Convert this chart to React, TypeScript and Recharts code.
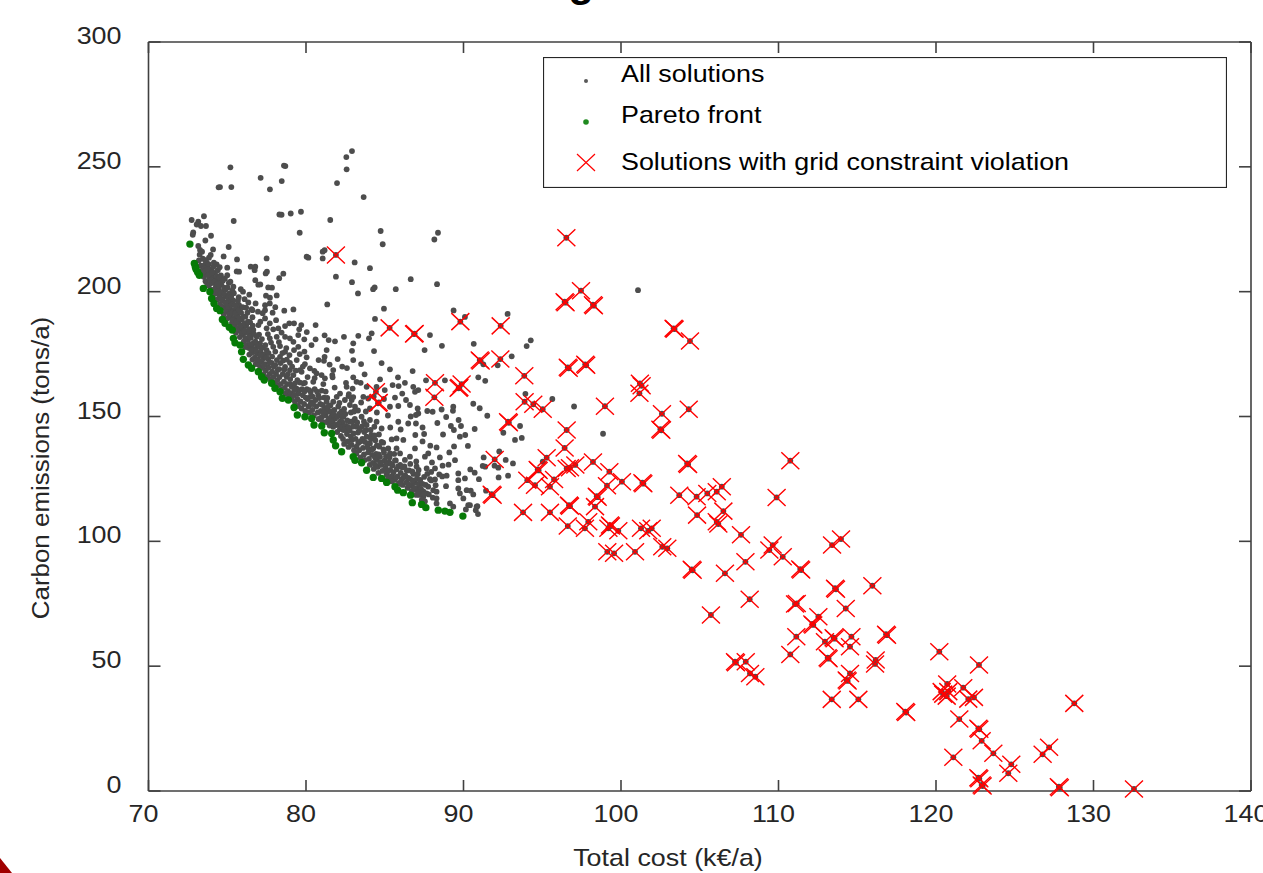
import { ScatterChart, Scatter, XAxis, YAxis, Legend } from 'recharts'

type Pt = [number, number]

const costTicks = [70, 80, 90, 100, 110, 120, 130, 140]
const carbonTicks = [0, 50, 100, 150, 200, 250, 300]
const legendLabels = ['All solutions', 'Pareto front', 'Solutions with grid constraint violation']

// sparse solutions above the front, read one by one
const upperSolutions: Pt[] = [
  [82.92, 256.3], [82.56, 253.9], [82.58, 249], [81.97, 243.5], [83.66, 237.9], [78.69, 250.3], [78.6, 250.5], [78.46, 244.3],
  [77.12, 245.6], [77.71, 241], [75.2, 249.8], [74.54, 241.9], [74.45, 241.8], [75.26, 241.9], [73.52, 230.2], [72.74, 228.7], [73.16, 228],
  [73.06, 226.9], [73.33, 226.3], [73.65, 226.3], [75.41, 228.3], [78.31, 230.9], [78.45, 230.8], [79.03, 231.3], [79.68, 232], [81.54, 228.7],
  [79.6, 223.6], [72.84, 223.7], [72.81, 222.8], [73.97, 222.4], [73.61, 220.5], [84.74, 224.3], [84.87, 219], [88.15, 220.9], [88.38, 223.6],
  [73.16, 218.3], [73.27, 216.7], [74.1, 216.9], [75.09, 217.9], [73.95, 214.7], [73.84, 213.6], [74.77, 214.1], [75.62, 212.9], [77.5, 213.3],
  [80.04, 214], [80.15, 213.6], [81.06, 216], [81.18, 216.6], [81.06, 213.3], [83.09, 211.7], [84.06, 209.4], [81.9, 206], [82.92, 203.8], [83.3, 199.3],
  [84.36, 201.7], [84.26, 201], [85.7, 201], [86.65, 205], [88.32, 203], [74.33, 210.9], [75, 209.6], [75.6, 208.1], [75.75, 208], [76.49, 210], [76.78, 210],
  [76.74, 208.6], [77.44, 207.3], [77.52, 208], [78.56, 207.2], [78.3, 205.4], [76.78, 204.6], [76.97, 202.8], [77.1, 202.9], [77.6, 201.7], [77.84, 201.6],
  [75.86, 201], [76.4, 198.8], [75.73, 197.8], [77.46, 198.4], [77.71, 197.6], [78.14, 198.5], [75.39, 202],
  [101.08, 200.6], [92.8, 191.1], [94.27, 180.5], [94.01, 178.2], [90.65, 179.1], [93.06, 174.1], [91.26, 170.9], [92.17, 170.5], [90.94, 165.7], [91.38, 164.3],
  [93.93, 159.1], [95.64, 157], [97.02, 154], [90.62, 155.1], [91.03, 153.3], [91.51, 150.3], [90.71, 145], [92.53, 143.5], [93.59, 146.2], [93.27, 140.6],
  [93.7, 141.4], [98.86, 143.1], [92.27, 136], [91.28, 133.6], [92.68, 132.6], [93.14, 131.2], [91.22, 130.2], [91.38, 129.9], [91.97, 130.3], [92.21, 129.5],
  [90.43, 128.8], [90.71, 127.5], [90.98, 124.9], [92.23, 125.6], [92.83, 126.3], [95.03, 131.9], [91.43, 120.3], [90.62, 118.8], [90.41, 114.5], [90.88, 114.1],
  [90.78, 112.5], [90.92, 110.9], [90.46, 120.3],
]

const middleSolutions: Pt[] = [
  [76.34, 195.7], [76.8, 195.3], [77.4, 194.6], [77.7, 195.3], [75.75, 194.6], [78.62, 192.4], [79.2, 192.9], [77.4, 192.6], [77.88, 191.6], [81.35, 194.9],
  [84.95, 193.2], [84.38, 189.1], [89.37, 192.5], [90.09, 189.9], [87.87, 182.6], [88.63, 178.3], [87.53, 176.6], [80.61, 186.6], [79.89, 180.9], [80.61, 180.9],
  [81.18, 182.5], [81.44, 180.6], [81.84, 180.1], [82.41, 181.9], [83.32, 182.3], [83, 179.3], [82.92, 176.3], [84, 181.3], [84.17, 183.3], [84.32, 176.2],
  [81.31, 176.6], [81.18, 173.9], [81.14, 172.3], [82.01, 173], [85.33, 168.9], [86.77, 168.2], [83.72, 166.9], [85.84, 165.7], [86.28, 163.5], [84.7, 164.9],
  [87.62, 164.5], [88.82, 164.5], [86.81, 161.9], [86.92, 159.9], [87.13, 160.6], [85.88, 162.2], [86.11, 159.2], [85.65, 157.6], [86.35, 156.6], [85.86, 154.2],
  [85.33, 153.9], [87.09, 153.2], [87.7, 152.2], [88.04, 151.9], [89.35, 153.9], [89.33, 152.3], [88.61, 152.8], [87.13, 151.2], [86.98, 150.6], [88.34, 147.4],
  [86.98, 147.2], [86.49, 147.2], [85.86, 147.9], [86.01, 144.8], [86.94, 142.6], [84.48, 147.9], [84.34, 145.9], [84.63, 142.8], [89.69, 148.6], [89.2, 146.2],
  [89.39, 144.6], [89.84, 146.2], [89.77, 141.9], [90.11, 142.6], [90.28, 138.2], [87.89, 138.3], [88.29, 137.6], [84.65, 137.9], [85.75, 141.2], [86.18, 140.6],
  [85.44, 140.8], [86.92, 137.2], [87.55, 133.9], [87.76, 135.2], [85.22, 137.2], [85.33, 135.2], [85.75, 137.2], [85.97, 135.2], [86.6, 133.9], [89.46, 132.5],
  [89.05, 130.7], [88.67, 130.3], [88.19, 129.2], [87.66, 129.2], [89.67, 127.2], [90.09, 125.2], [88.46, 126.8], [88.93, 126.3], [87.87, 124.9], [88.19, 124.8],
  [87.76, 121.9], [88.23, 122.5], [88.89, 122.1], [88.08, 120.5], [88.29, 119.9], [89.67, 124.5], [89.67, 121.2], [89.77, 119.2], [89.99, 117.2], [90.2, 120.5],
  [88.29, 117.2], [88.29, 115.2], [89.14, 115.2], [89.35, 113.9], [90.3, 114.5], [90.15, 112.8], [90.83, 113.9], [87.2, 120.5], [87.45, 117.9], [87.13, 121.2],
  [77.4, 189.3], [77.7, 187.3], [76.66, 184.6], [77.5, 185.3], [77.92, 184.9], [78.24, 185.3], [78.67, 186.2], [78.94, 187.3], [79.24, 187.3], [79.57, 184.9],
  [77.7, 181.3], [78.14, 181.9], [78.67, 181.9], [78.98, 181.3], [79.2, 179.9], [79.51, 182.6], [79.51, 177.9], [79.24, 176.6], [78.67, 175.9], [78.35, 173.9],
  [77.92, 177.9], [78.35, 178.2], [77.5, 176.6], [77.08, 179.3], [76.87, 181.9], [76.44, 183.3], [76.55, 177.9], [76.87, 175.3], [77.29, 173.3], [79.41, 172.6],
  [78.98, 171.5], [80.04, 173.7], [79.93, 171], [80.25, 169.3], [80.53, 168.3], [78.98, 168.6], [79.72, 167.9], [79.93, 163.5], [80.46, 163.9], [80.67, 167.3],
  [80.99, 166.6], [81.2, 165.3], [81.1, 163], [81.73, 168.6], [81.67, 166.6], [81.69, 165.7], [82.54, 163.5], [83, 165.7], [83.21, 163.9], [83.47, 163.5],
  [82.58, 161.9], [82.96, 161.2], [83.85, 161.9], [84.48, 161.9], [83.64, 157.9], [83.95, 157.2], [84.06, 153.2], [82.47, 156.6], [82.9, 156.6], [82.79, 154.6],
  [83.11, 153.9], [83.53, 149.9], [84.06, 148.6], [82.16, 159.2], [81.95, 157.9], [81.73, 155.9], [81.31, 155.9], [80.78, 158.6], [80.25, 157.9], [79.83, 163.3],
  [79.3, 163.3], [78.77, 165.9], [79.09, 161.9], [79.51, 159.2], [78.67, 169.9], [82.37, 149.9], [82.16, 147.9], [82.79, 147.9], [83.21, 145.9], [83.85, 141.9],
  [84.06, 139.2], [84.27, 137.2], [82.9, 140.6], [83.21, 137.9], [82.37, 144.6], [81.73, 145.9],
  [76, 200], [76.1, 197], [76.55, 193], [76.2, 193.6], [76.95, 192], [77.1, 188], [77.25, 191.4], [76.6, 192.6], [78.1, 188.6], [78.45, 183.6], [78.05, 193.8], [79.7, 186.6],
  [79.9, 176], [80.35, 178.6], [80.05, 183.8], [80.8, 172.6], [81.5, 170.8], [82.3, 170], [82.6, 169.4], [83, 172.6], [83.5, 171], [84.8, 171.4], [85, 160.6], [84.95, 157],
  [85.5, 162.6], [85.2, 150.4], [85.35, 145.6], [84.9, 139.5], [86.6, 154.6], [86.65, 150], [87.4, 145.6], [87.5, 143], [87.4, 140], [87, 132], [87.15, 128.6], [88, 131.6],
  [88.5, 133.6], [88.65, 126], [89.1, 135.6], [89.4, 138], [88.7, 142.8], [88.9, 149.8], [83.5, 155.6], [83.8, 152], [84.5, 151.6], [84.8, 145.2], [83, 157.8], [82.7, 158.2], [84.3, 158],
]

// the packed band just above the Pareto front
const denseSolutions: Pt[] = [
  [73.2, 212.5], [73.25, 214.8], [73.3, 210.4], [73.4, 216], [73.42, 208.5], [73.45, 213.2], [73.5, 206], [73.55, 210.6], [73.6, 209.4], [73.62, 204.2],
  [73.68, 211.8], [73.7, 207], [73.72, 202.5], [73.82, 211], [73.85, 205.5], [73.88, 203], [73.9, 208.2], [73.93, 200.8], [74, 209], [74.02, 206.4],
  [74.05, 203.5], [74.08, 200.6], [74.1, 198.6], [74.15, 211.6], [74.22, 207.5], [74.25, 205], [74.28, 202], [74.3, 199.4], [74.33, 196.8], [74.4, 208.6],
  [74.42, 204], [74.46, 201], [74.5, 198], [74.55, 195], [74.6, 206.5], [74.62, 202.8], [74.66, 199.8], [74.7, 196.6], [74.75, 193.8], [74.78, 191], [74.85, 205.2],
  [74.88, 200.8], [74.9, 198], [74.95, 194.8], [75, 192], [75.02, 189.4], [75.1, 203.5], [75.12, 199.2], [75.15, 196], [75.2, 193], [75.22, 190.2], [75.3, 187.5],
  [75.32, 200.5], [75.38, 196.5], [75.4, 192.4], [75.45, 189.5], [75.5, 186], [75.55, 183.5], [75.6, 194], [75.65, 190.5], [75.7, 187.5], [75.75, 184.5],
  [75.8, 181.8], [75.88, 191.6], [75.9, 188.8], [75.95, 185.6], [76, 182.8], [76.05, 180], [76.12, 177.8], [76.15, 190], [76.2, 186.5], [76.25, 183.6],
  [76.3, 180.6], [76.35, 177.5], [76.4, 174.8], [76.45, 187.8], [76.5, 181.5], [76.55, 175.5], [76.6, 172.8], [76.68, 179.5], [76.72, 177], [76.75, 173.6],
  [76.8, 171], [76.9, 178.5], [76.95, 173], [77, 170.8], [77.05, 168.8], [77.12, 176], [77.18, 172], [77.22, 169.5], [77.3, 167], [77.35, 174.8],
  [77.4, 171], [77.45, 168.4], [77.52, 165.8], [77.6, 173], [77.62, 169.6], [77.7, 167], [77.75, 164.8], [77.82, 171.5], [77.85, 168], [77.92, 165.8],
  [78, 163.6], [78.05, 170.6], [78.1, 167], [78.18, 164.6], [78.22, 162.5], [78.3, 169], [78.32, 165.8], [78.4, 163], [78.45, 160.8], [78.52, 167],
  [78.6, 164], [78.65, 161.5], [78.7, 159.2], [78.8, 163], [78.85, 160.2], [78.92, 158], [79, 165], [79.05, 159.4], [79.1, 157], [79.18, 162.4],
  [79.25, 158.6], [79.3, 155.8], [79.4, 161.2], [79.45, 157], [79.5, 154.2], [79.6, 160.6], [79.65, 156], [79.72, 153.2], [79.8, 158.5], [79.88, 155],
  [79.95, 152.2], [80.05, 161], [80.1, 157], [80.15, 154], [80.2, 151.6], [80.3, 159.8], [80.35, 155.6], [80.4, 152.6], [80.5, 150.4], [80.55, 161],
  [80.6, 156.6], [80.65, 154], [80.75, 151.6], [80.8, 149], [80.9, 155], [80.95, 152.2], [81, 149.8], [81.05, 147.8], [81.15, 157.6], [81.2, 153.2],
  [81.25, 150.4], [81.3, 147.8], [81.4, 152], [81.45, 149], [81.5, 146.4], [81.55, 154.4], [81.62, 150], [81.7, 147.6], [81.8, 152.6], [81.85, 149.2],
  [81.92, 146.6], [81.98, 143.8], [82.05, 154], [82.1, 151], [82.15, 145], [82.22, 142.2], [82.25, 152], [82.32, 147.5], [82.35, 141], [82.42, 139],
  [82.5, 151], [82.55, 146.2], [82.6, 143], [82.65, 140], [82.7, 137.8], [82.78, 144.5], [82.85, 142], [82.9, 138.6], [83, 146], [83.02, 143.2],
  [83.05, 136.5], [83.15, 141], [83.2, 135.2], [83.3, 143.6], [83.32, 139.4], [83.38, 136.5], [83.45, 133.6], [83.55, 146], [83.58, 141], [83.62, 137.4],
  [83.68, 134.8], [83.72, 132.6], [83.8, 144.5], [83.9, 139], [83.95, 135.6], [84, 133], [84.05, 130.6], [84.15, 142.6], [84.2, 134.6], [84.25, 131.4],
  [84.3, 129], [84.4, 140.5], [84.45, 135], [84.5, 132.6], [84.55, 129.8], [84.6, 127.4], [84.7, 133.8], [84.78, 130.6], [84.85, 128.2], [84.95, 135.6],
  [85, 132.4], [85.05, 129.4], [85.12, 126.8], [85.2, 125], [85.28, 131.6], [85.35, 128.6], [85.42, 126], [85.5, 130.4], [85.55, 127.6], [85.62, 124.6],
  [85.7, 132.4], [85.75, 128.8], [85.82, 126], [85.9, 123.4], [85.98, 130.6], [86.02, 127.4], [86.08, 124.8], [86.15, 122.6], [86.25, 130], [86.3, 126.4],
  [86.38, 123.6], [86.45, 121.4], [86.55, 128.4], [86.6, 125], [86.68, 122.4], [86.72, 120.2], [86.82, 127], [86.9, 123.6], [86.95, 120.8], [87, 118.6],
  [87.05, 125.2], [87.15, 123], [87.2, 118.6], [87.3, 121], [87.35, 116.6], [87.45, 120], [87.55, 116], [87.65, 119.2],
  [73.5, 208], [73.6, 212.6], [73.75, 209], [73.8, 206.6], [73.95, 204.6], [74.05, 207.6], [74.12, 210], [74.18, 204], [74.2, 201], [74.35, 206.2], [74.38, 203], [74.4, 200.2],
  [74.5, 205.6], [74.52, 209.8], [74.58, 199.6], [74.62, 197], [74.72, 204.4], [74.8, 201.6], [74.82, 198.8], [74.9, 195.6], [74.92, 192.8], [75, 206.6], [75.02, 201.6], [75.05, 197.6],
  [75.08, 194], [75.14, 191], [75.2, 204], [75.25, 198], [75.28, 194.8], [75.3, 191.6], [75.34, 188.6], [75.42, 199.4], [75.48, 194.6], [75.52, 191.4], [75.58, 188], [75.62, 185.2],
  [75.68, 196.4], [75.72, 192.6], [75.78, 189.2], [75.85, 186.4], [75.9, 183.4], [75.98, 193.8], [76.02, 190], [76.08, 187.4], [76.1, 184.4], [76.15, 181.4], [76.22, 178.6], [76.28, 191.6],
  [76.32, 188], [76.38, 185], [76.42, 182], [76.48, 179], [76.52, 176.6], [76.6, 189.8], [76.62, 186.4], [76.7, 183], [76.78, 180], [76.82, 176.6], [76.88, 172.6], [76.98, 186.6],
  [77.02, 182.8], [77.05, 178], [77.1, 174.6], [77.2, 181], [77.25, 177.6], [77.32, 170.4], [77.42, 178.6], [77.48, 173.6], [77.58, 183], [77.62, 175.4], [77.68, 171.6], [77.78, 179.6],
  [77.85, 174], [77.95, 170], [78.05, 176], [78.15, 172.6], [78.2, 168.6], [78.28, 179.8], [78.38, 171.4], [78.5, 175.4], [78.55, 172.4], [78.62, 168.8], [78.75, 177.4], [78.78, 172.8],
  [78.85, 167], [78.95, 174.6], [79, 163], [79.12, 170], [79.2, 166.6], [79.28, 160.6], [79.35, 168.4], [79.45, 164.6], [79.6, 175], [79.62, 168.6], [79.62, 163.6], [79.75, 161],
  [79.8, 170], [79.9, 160], [79.98, 157.6], [80.1, 165.8], [80.2, 160.6], [80.3, 155], [80.42, 158], [80.45, 155], [80.55, 165.4], [80.7, 160], [80.85, 157.4], [81, 160.4],
  [81.05, 154.6], [81.12, 151.6], [81.25, 160], [81.35, 157.4], [81.38, 153.8], [81.58, 152], [81.6, 148.2], [81.75, 150.8], [81.82, 161.6], [82, 150], [82.05, 147], [82.12, 155.4],
  [82.28, 145.6], [82.3, 149.8], [82.42, 153], [82.45, 144.8], [82.62, 148.4], [82.7, 145.6], [82.72, 159], [82.85, 151.6], [82.95, 148], [83.05, 152], [83.1, 149], [83.25, 147.6],
  [83.3, 152.4], [83.42, 144.6], [83.45, 140], [83.68, 148], [83.7, 143.8], [83.75, 139.8], [83.85, 146.6], [83.92, 137.6], [84.1, 144.6], [84.12, 141], [84.18, 136.8], [84.35, 142.4],
  [84.38, 133.6], [84.4, 130.6], [84.5, 138.4], [84.62, 134.8], [84.72, 131.6], [84.8, 139.8], [84.92, 136.8], [85.08, 134], [85.12, 131], [85.18, 128], [85.3, 133.6], [85.4, 131],
  [85.45, 124], [85.6, 135], [85.65, 132.4], [85.72, 125.6], [85.85, 130], [86, 123], [86.12, 129.6], [86.2, 125.6], [86.28, 132.6], [86.4, 128.4], [86.5, 125.4], [86.52, 122.8],
  [86.62, 131], [86.75, 128], [86.78, 124.4], [86.88, 121.4], [87.02, 130], [87.1, 127], [87.12, 119.8], [87.25, 124.6], [87.4, 123], [87.5, 125.8], [87.5, 119], [87.7, 127],
  [87.6, 122.6], [87.8, 118.8], [87.95, 124.4], [87.95, 127.8], [88.05, 117.5],
]

const paretoFront: Pt[] = [
  [72.63, 219.06], [72.91, 211.3], [72.97, 210], [73.02, 209], [73.12, 207.8], [73.23, 206.6], [73.48, 201.3], [73.9, 200], [74.01, 197.3], [74.16, 195.3], [74.33, 193.3],
  [74.54, 192.4], [74.69, 188.9], [74.86, 187.3], [75.13, 185.7], [75.32, 184.6], [75.39, 181.3], [75.49, 179.5], [75.81, 178.6], [75.91, 175.9],
  [76.02, 172.9], [76.34, 170.6], [76.55, 169.3], [76.97, 167.9], [77.18, 165.9], [77.35, 164.6], [77.82, 163.3], [78.03, 161.3], [78.35, 159.9], [78.5, 157.3],
  [78.88, 156.6], [79.24, 153.6], [79.45, 150.6], [79.93, 149.9], [80.36, 149.2], [80.51, 146.6], [81, 146.2], [81.16, 143.5], [81.63, 143.2], [81.73, 140.6],
  [81.88, 138.3], [82.26, 135.9], [83, 133.9], [83.11, 132.5], [83.53, 131.5], [83.85, 128.5], [84.27, 125.6], [84.8, 125.2], [85.12, 123.6], [85.65, 121.9],
  [85.82, 120.5], [86.18, 119.5], [86.64, 118.5], [86.75, 115.5], [87.34, 114.8], [87.61, 113.5], [88.4, 112.5], [88.82, 112.1], [89.14, 111.6], [89.96, 110.1],
]

const gridViolations: Pt[] = [
  [81.9, 214.7], [85.31, 185.5], [86.86, 183], [86.9, 183.2], [89.8, 188], [88.19, 163.5], [88.15, 157.7], [89.88, 163], [89.69, 161.3], [89.74, 161.6], [84.44, 159.9], [84.57, 155.3], [84.62, 155.6],
  [96.53, 221.6], [97.46, 200.4], [96.42, 196], [96.48, 195.6], [98.22, 194.8], [98.28, 194.4], [103.34, 185.3], [103.4, 185], [104.38, 180.2], [92.36, 186.3], [91.03, 172.6], [91.09, 172.2], [92.34, 173], [93.86, 166.3],
  [96.62, 169.7], [96.68, 169.3], [97.73, 170.9], [97.79, 170.5], [101.2, 163.3], [101.31, 162.3], [101.17, 159.3], [93.88, 155.9], [94.43, 154.9], [95.03, 152.9], [98.98, 154.1], [102.6, 151.1], [104.3, 152.9],
  [92.83, 147.9], [92.88, 147.5], [102.5, 144.9], [102.56, 144.5], [96.55, 144.6], [96.42, 137.4], [104.2, 131.2], [104.26, 130.8], [95.28, 133.5], [94.71, 128.8], [94.77, 128.4], [91.98, 132.8], [96.55, 129.2], [96.76, 129.5], [97.1, 130.6],
  [98.22, 131.8], [99.26, 127.9], [94.05, 124.5], [94.54, 122.5], [95.75, 124.8], [95.49, 121.9], [100.06, 123.9], [101.36, 123.5], [101.42, 123.1], [99.11, 122.3], [91.79, 118.9], [91.85, 118.5], [103.7, 118.5],
  [104.8, 117.9], [105.48, 119.2], [106.08, 119.9], [106.4, 121.9], [98.46, 118.1], [98.52, 117.7], [96.7, 114.5], [96.76, 114.1], [98.35, 113.9], [93.78, 111.6], [95.49, 111.6], [104.83, 110.5], [106.5, 112.1],
  [106.08, 107.8], [106.18, 106.9], [96.62, 106.1], [97.71, 105.2], [97.92, 107.8], [99.3, 106.5], [99.36, 106.1], [99.2, 105.2], [99.83, 104.2], [101.27, 105.2], [101.73, 104.2], [101.95, 105.2],
  [107.62, 102.6], [102.62, 97.8], [102.94, 97.2], [99.13, 95.8], [99.56, 95.2], [100.89, 95.8], [110.75, 132.3], [109.88, 117.6], [109.63, 98.5], [109.42, 96.5], [110.27, 93.8], [111.38, 88.9], [111.44, 88.5],
  [113.4, 98.5], [113.97, 100.9], [104.49, 88.8], [104.55, 88.4], [106.6, 87.2], [107.9, 91.8], [108.17, 76.8], [105.71, 70.5], [113.59, 81.2], [113.65, 80.8], [115.96, 82.2], [111.16, 75.1], [111.05, 74.9], [114.27, 73.1],
  [112.53, 69.8], [112.15, 66.9], [112.21, 66.5], [111.13, 61.8], [110.75, 54.7], [113.5, 61.4], [113.56, 61], [112.95, 59.8], [114.63, 61.8], [114.54, 57.8], [113.12, 53.4], [113.18, 53], [116.83, 62.8], [116.89, 62.4],
  [116.17, 52.5], [116.13, 50.9], [107.24, 51.8], [107.3, 51.4], [107.92, 51.8], [108.19, 47.1], [108.53, 45.8], [114.54, 47.1], [114.33, 44.5], [114.39, 44.1], [113.38, 36.7], [115.07, 36.7], [118.05, 31.8], [118.11, 31.4],
  [120.21, 55.8], [122.73, 50.5], [120.71, 42.9], [121.73, 41.4], [120.78, 39.8], [120.36, 39.8], [120.46, 38.8], [120.68, 38], [122.05, 36.8], [122.41, 37.5], [121.48, 28.8], [122.69, 25.1], [122.75, 24.7],
  [122.9, 20.1], [123.64, 15.1], [121.1, 13.5], [124.78, 10.7], [124.59, 7.1], [122.69, 5.3], [122.75, 4.9], [122.9, 2.4], [122.96, 2], [126.77, 14.7], [127.18, 17.5], [128.78, 35.1], [127.8, 1.7], [127.86, 1.3], [132.57, 0.8],
]

const toRows = (pts: Pt[]) => pts.map(([cost, carbon]) => ({ cost, carbon }))

const allRows = toRows([...upperSolutions, ...middleSolutions, ...denseSolutions, ...gridViolations])
const paretoRows = toRows(paretoFront)
const violationRows = toRows(gridViolations)

const axisColor = '#404040'
const labelColor = '#262626'
const fontFamily = '"Liberation Sans", Arial, sans-serif'
const axisLineStyle = { stroke: axisColor, strokeWidth: 1.6 }
const plotTop = 42
const plotRight = 1251

// the original figure is stretched a little in x
function Label({ x, y, anchor = 'start', rotate = false, fill = labelColor, children }: any) {
  const transform = rotate ? `translate(${x},${y}) rotate(-90) scale(1.08,1)` : `translate(${x},${y}) scale(1.12,1)`
  return (
    <text transform={transform} textAnchor={anchor} fontFamily={fontFamily} fontSize={24} fill={fill}>
      {children}
    </text>
  )
}

// the top and right axes get no ticks without a series of their own,
// so the bottom and left ticks also draw the matching stub on the far side
const BottomTick = ({ x, y, payload }: any) => (
  <g>
    <line x1={x} y1={y} x2={x} y2={y - 11} {...axisLineStyle} />
    <line x1={x} y1={plotTop} x2={x} y2={plotTop + 11} {...axisLineStyle} />
    <Label x={x - 5} y={y + 31} anchor="middle">{payload.value}</Label>
  </g>
)
const LeftTick = ({ x, y, payload }: any) => (
  <g>
    <line x1={x} y1={y} x2={x + 12} y2={y} {...axisLineStyle} />
    <line x1={plotRight} y1={y} x2={plotRight - 12} y2={y} {...axisLineStyle} />
    <Label x={x - 27} y={y + 2} anchor="end">{payload.value}</Label>
  </g>
)

const GrayDot = ({ cx, cy }: any) => <circle cx={cx} cy={cy} r={2.9} fill="#4d4d4d" />
const GreenDot = ({ cx, cy }: any) => <circle cx={cx} cy={cy} r={3.7} fill="#067a06" />
const RedCross = ({ cx, cy }: any) => (
  <path d={`M${cx - 9} ${cy - 8.5}L${cx + 9} ${cy + 8.5}M${cx - 9} ${cy + 8.5}L${cx + 9} ${cy - 8.5}`} stroke="#ff0000" strokeWidth={1.4} fill="none" />
)

function LegendBox() {
  return (
    <svg width={684} height={131} style={{ display: 'block' }}>
      <rect x={0.5} y={0.5} width={683} height={130} fill="#fff" stroke="#262626" strokeWidth={1.2} />
      <circle cx={43} cy={24} r={2} fill="#595959" />
      <circle cx={43} cy={65} r={2.8} fill="#1f8a1f" />
      <path d="M34 97L52 114M34 114L52 97" stroke="#ff0000" strokeWidth={1.2} />
      <Label x={78} y={25} fill="#000">{legendLabels[0]}</Label>
      <Label x={78} y={66} fill="#000">{legendLabels[1]}</Label>
      <Label x={78} y={113} fill="#000">{legendLabels[2]}</Label>
    </svg>
  )
}

export default function App() {
  return (
    <div style={{ position: 'absolute', left: 0, top: 0, width: 1263, height: 873, overflow: 'hidden', background: '#fff' }}>
      <ScatterChart width={1263} height={873} margin={{ top: 41, right: 11, bottom: 81, left: 147.5 }}>
        <XAxis xAxisId={0} type="number" dataKey="cost" domain={[70, 140]} ticks={costTicks} height={1} axisLine={axisLineStyle} tickLine={false}
          tickSize={0} tickMargin={0} tick={BottomTick} interval={0} />
        <XAxis xAxisId="top" orientation="top" type="number" dataKey="cost" domain={[70, 140]} ticks={costTicks} height={1} axisLine={axisLineStyle} tickLine={false} tick={false} />
        <YAxis yAxisId={0} type="number" dataKey="carbon" domain={[0, 300]} ticks={carbonTicks} width={1} axisLine={axisLineStyle} tickLine={false}
          tickSize={0} tickMargin={0} tick={LeftTick} interval={0} />
        <YAxis yAxisId="right" orientation="right" type="number" dataKey="carbon" domain={[0, 300]} ticks={carbonTicks} width={1} axisLine={axisLineStyle} tickLine={false} tick={false} />
        <Scatter name={legendLabels[0]} data={allRows} shape={GrayDot} isAnimationActive={false} />
        <Scatter name={legendLabels[1]} data={paretoRows} shape={GreenDot} isAnimationActive={false} />
        <Scatter name={legendLabels[2]} data={violationRows} shape={RedCross} isAnimationActive={false} />
        <Legend layout="vertical" align="center" verticalAlign="middle" content={<LegendBox />}
          wrapperStyle={{ position: 'absolute', left: 543, top: 57, width: 684, height: 131, margin: 0, padding: 0 }} />
      </ScatterChart>
      {/* axis titles, the clipped title and the corner mark from the source page */}
      <svg width={1263} height={873} style={{ position: 'absolute', left: 0, top: 0, pointerEvents: 'none' }}>
        <Label x={49} y={468} anchor="middle" rotate>Carbon emissions (tons/a)</Label>
        <Label x={668} y={866} anchor="middle">Total cost (k€/a)</Label>
        <text x={581} y={-4} textAnchor="middle" fontFamily={fontFamily} fontWeight="bold" fontSize={42} fill="#000">g</text>
        <polygon points="0,858 12,873 0,873" fill="#a00000" />
      </svg>
    </div>
  )
}
